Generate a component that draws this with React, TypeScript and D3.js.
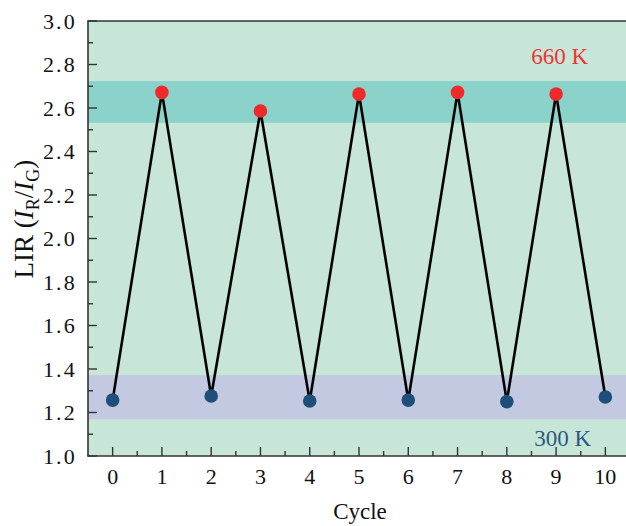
import React from 'react';
import * as d3 from 'd3';

const cycles = [0, 1, 2, 3, 4, 5, 6, 7, 8, 9, 10];
const lir = [1.257, 2.672, 1.276, 2.586, 1.253, 2.664, 1.257, 2.672, 1.25, 2.664, 1.271];
const hotBand = [2.532, 2.724];
const coldBand = [1.169, 1.372];
const yTicks = [1.0, 1.2, 1.4, 1.6, 1.8, 2.0, 2.2, 2.4, 2.6, 2.8, 3.0];

const W = 626;
const H = 526;
const m = { left: 88, top: 21, right: -4, bottom: 70 };
const font = '"Liberation Serif", "Times New Roman", serif';

export default function App() {
  const x = d3.scaleLinear().domain([-0.5, 10.5]).range([m.left, W - m.right]);
  const y = d3.scaleLinear().domain([1, 3]).range([H - m.bottom, m.top]);
  const line = d3.line<number>().x((_, i) => x(cycles[i])).y(d => y(d));
  const axisColor = '#333';
  const x0 = m.left;
  const x1 = W - m.right;
  const y0 = H - m.bottom;
  const y1 = m.top;
  const minorY = d3.range(1.1, 3.0, 0.2);
  const minorX = d3.range(-0.5, 10.6, 1).filter(v => v > -0.5);

  return (
    <svg width={W} height={H} style={{ position: 'absolute', left: 0, top: 0 }} fontFamily={font}>
      <defs>
        <clipPath id="plot">
          <rect x={x0} y={y1} width={x1 - x0} height={y0 - y1} />
        </clipPath>
      </defs>
      <rect x={x0} y={y1} width={x1 - x0} height={y0 - y1} fill="#c8e6d8" />
      <rect x={x0} y={y(hotBand[1])} width={x1 - x0} height={y(hotBand[0]) - y(hotBand[1])} fill="#8bd2cb" />
      <rect x={x0} y={y(coldBand[1])} width={x1 - x0} height={y(coldBand[0]) - y(coldBand[1])} fill="#c3c9e0" />

      <g clipPath="url(#plot)">
        <path d={line(lir) || ''} fill="none" stroke="#000" strokeWidth={2.6} strokeLinejoin="miter" />
        {lir.map((v, i) => (
          <circle key={i} cx={x(cycles[i])} cy={y(v)} r={6.8} fill={i % 2 ? '#ee2a2a' : '#1f4e78'} />
        ))}
      </g>

      <text x={588} y={64} textAnchor="end" fontSize={23} fill="#ee3333">660 K</text>
      <text x={591} y={446} textAnchor="end" fontSize={23} fill="#2a5a82">300 K</text>

      {/* axes frame */}
      <line x1={x0} x2={x0} y1={y1} y2={y0} stroke={axisColor} strokeWidth={1.6} />
      <line x1={x0 - 0.8} x2={x1} y1={y0} y2={y0} stroke={axisColor} strokeWidth={1.6} />
      <line x1={x0 - 0.8} x2={x1} y1={y1} y2={y1} stroke={axisColor} strokeWidth={1.6} />

      {yTicks.map(t => (
        <g key={t}>
          <line x1={x0} x2={x0 + 9} y1={y(t)} y2={y(t)} stroke={axisColor} strokeWidth={1.4} />
          <text x={77} y={y(t)} dy="0.35em" textAnchor="end" fontSize={22} letterSpacing={2.2} fill="#111">{t.toFixed(1)}</text>
        </g>
      ))}
      {minorY.map(t => (
        <line key={t} x1={x0} x2={x0 + 5} y1={y(t)} y2={y(t)} stroke={axisColor} strokeWidth={1.4} />
      ))}
      {cycles.map(c => (
        <g key={c}>
          <line x1={x(c)} x2={x(c)} y1={y0} y2={y0 - 9} stroke={axisColor} strokeWidth={1.4} />
          <text x={x(c)} y={484} textAnchor="middle" fontSize={22} fill="#111">{c}</text>
        </g>
      ))}
      {minorX.map(c => (
        <line key={c} x1={x(c)} x2={x(c)} y1={y0} y2={y0 - 5} stroke={axisColor} strokeWidth={1.4} />
      ))}

      <text x={360} y={519} textAnchor="middle" fontSize={23} fill="#111">Cycle</text>
      <text transform="translate(33,219) rotate(-90)" textAnchor="middle" fontSize={27} fill="#111">
        LIR (<tspan fontStyle="italic">I</tspan>
        <tspan fontSize={18} dy={6}>R</tspan>
        <tspan dy={-6}>/</tspan>
        <tspan fontStyle="italic">I</tspan>
        <tspan fontSize={18} dy={6}>G</tspan>
        <tspan dy={-6}>)</tspan>
      </text>
    </svg>
  );
}
